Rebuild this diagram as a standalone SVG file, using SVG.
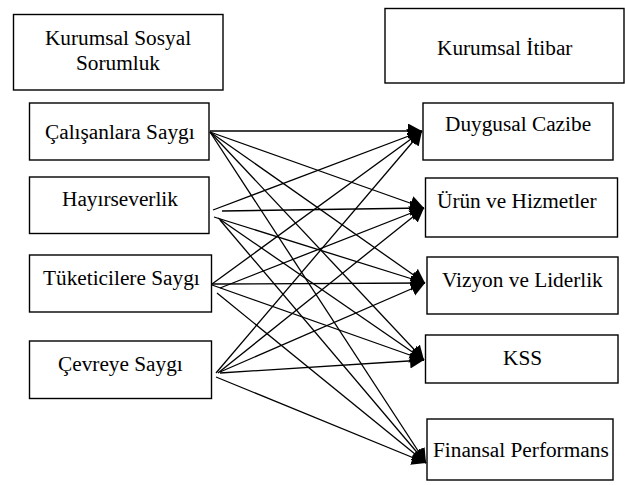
<svg xmlns="http://www.w3.org/2000/svg" width="625" height="485" viewBox="0 0 625 485">
<style>
.box{fill:#fff;stroke:#000;stroke-width:1.4}
.c line{stroke:#000;stroke-width:1.3}
</style>
<defs>
<marker id="ah" markerUnits="userSpaceOnUse" markerWidth="16" markerHeight="16" refX="14" refY="7.5" orient="auto">
<path d="M0,0 L14,7.5 L0,15 z" fill="#000"/>
</marker>
</defs>
<rect width="625" height="485" fill="#fff"/>
<g id="nodes" font-family="Liberation Serif" font-size="21.3" fill="#000">
<g id="kss-header"><rect class="box" x="13.5" y="14.5" width="209.5" height="75.5"/><text x="118" y="45" text-anchor="middle">Kurumsal Sosyal</text><text x="118" y="70" text-anchor="middle">Sorumluk</text></g>
<g id="calisanlara"><rect class="box" x="29.5" y="103" width="179.5" height="57"/><text x="45" y="139">Çalışanlara Saygı</text></g>
<g id="hayirseverlik"><rect class="box" x="29.5" y="177" width="179.5" height="56.5"/><text x="62" y="206">Hayırseverlik</text></g>
<g id="tuketicilere"><rect class="box" x="29.5" y="255" width="182" height="57"/><text x="43" y="285">Tüketicilere Saygı</text></g>
<g id="cevreye"><rect class="box" x="29.5" y="341" width="182" height="57.5"/><text x="58" y="370.5">Çevreye Saygı</text></g>
<g id="itibar-header"><rect class="box" x="385" y="8.5" width="239" height="74.5"/><text x="437" y="55">Kurumsal İtibar</text></g>
<g id="duygusal"><rect class="box" x="423" y="103" width="190" height="57"/><text x="445" y="131">Duygusal Cazibe</text></g>
<g id="urun"><rect class="box" x="425.5" y="178" width="192" height="59"/><text x="437" y="208">Ürün ve Hizmetler</text></g>
<g id="vizyon"><rect class="box" x="427" y="257" width="191" height="57"/><text x="442" y="286.5">Vizyon ve Liderlik</text></g>
<g id="kss"><rect class="box" x="425.5" y="335" width="192.5" height="48"/><text x="503" y="365">KSS</text></g>
<g id="finansal"><rect class="box" x="427" y="419" width="186" height="61"/><text x="433" y="457">Finansal Performans</text></g>
</g>
<g id="connectors" class="c">
<line x1="210" y1="131" x2="422" y2="131" marker-end="url(#ah)"/>
<line x1="210" y1="132" x2="424" y2="208" marker-end="url(#ah)"/>
<line x1="210" y1="132" x2="425" y2="283" marker-end="url(#ah)"/>
<line x1="210" y1="132" x2="424" y2="360" marker-end="url(#ah)"/>
<line x1="210" y1="132" x2="426" y2="463" marker-end="url(#ah)"/>
<line x1="213" y1="210" x2="422" y2="131" marker-end="url(#ah)"/>
<line x1="222" y1="211" x2="424" y2="208" marker-end="url(#ah)"/>
<line x1="214" y1="217" x2="425" y2="283" marker-end="url(#ah)"/>
<line x1="218" y1="218" x2="424" y2="360" marker-end="url(#ah)"/>
<line x1="220" y1="220" x2="426" y2="463" marker-end="url(#ah)"/>
<line x1="212" y1="284" x2="422" y2="131" marker-end="url(#ah)"/>
<line x1="220" y1="288" x2="424" y2="208" marker-end="url(#ah)"/>
<line x1="212" y1="284" x2="425" y2="283" marker-end="url(#ah)"/>
<line x1="212" y1="285" x2="424" y2="360" marker-end="url(#ah)"/>
<line x1="217" y1="293" x2="426" y2="463" marker-end="url(#ah)"/>
<line x1="216" y1="373" x2="422" y2="131" marker-end="url(#ah)"/>
<line x1="218" y1="373" x2="424" y2="208" marker-end="url(#ah)"/>
<line x1="220" y1="372" x2="425" y2="283" marker-end="url(#ah)"/>
<line x1="220" y1="373" x2="424" y2="360" marker-end="url(#ah)"/>
<line x1="216" y1="377" x2="426" y2="463" marker-end="url(#ah)"/>
</g>
</svg>
